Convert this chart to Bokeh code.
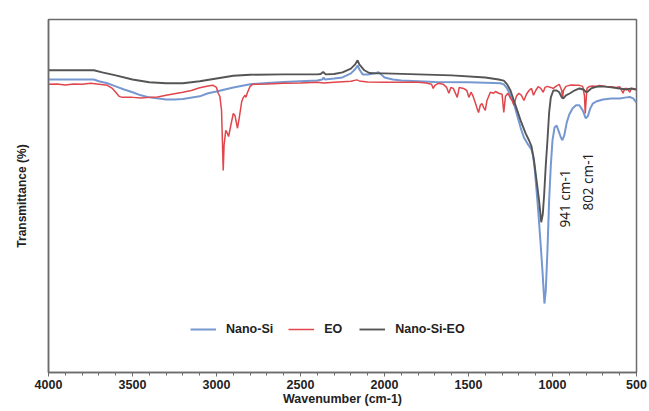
import math
from bokeh.plotting import figure
from bokeh.models import Range1d, Legend, LegendItem, SingleIntervalTicker, FixedTicker, Label
from bokeh.embed import file_html
from bokeh.resources import INLINE

# ---- data (wavenumber cm-1, transmittance %) ----
nano_si_wn = [4000, 3900, 3800, 3730, 3700, 3650, 3600, 3550, 3500, 3450, 3400, 3300, 3250, 3200,
              3100, 3050, 3000, 2950, 2900, 2800, 2700, 2600, 2500, 2400, 2370, 2363, 2355, 2300,
              2250, 2200, 2175, 2160, 2150, 2130, 2100, 2080, 2050, 2036, 2020, 2000, 1950, 1900,
              1800, 1700, 1500, 1350, 1310, 1290, 1270, 1250, 1230, 1210, 1190, 1170, 1150, 1125,
              1115, 1105, 1095, 1085, 1070, 1060, 1048, 1040, 1030, 1020, 1010, 1000, 988, 975,
              965, 950, 941, 930, 915, 900, 880, 860, 840, 820, 802, 790, 775, 760, 740, 700,
              650, 600, 560, 540, 520, 500]
nano_si_t = [81.3, 81.3, 81.3, 81.3, 80.8, 80.2, 79.3, 78.4, 77.6, 76.7, 76.1, 75.5, 75.5, 75.6,
             76.4, 77.3, 77.8, 78.4, 79.0, 79.9, 80.3, 80.6, 80.8, 81.0, 81.3, 81.9, 81.3, 81.6,
             81.9, 83.1, 84.3, 85.4, 84.3, 82.8, 82.8, 82.9, 83.2, 83.4, 82.8, 81.9, 81.3, 81.0,
             80.8, 80.6, 80.5, 80.3, 80.2, 79.9, 78.7, 76.7, 74.3, 70.8, 67.3, 64.4, 62.7, 60.9,
             58.9, 54.8, 49.0, 43.1, 32.9, 25.7, 16.0, 19.8, 31.5, 46.1, 56.3, 63.6, 67.3, 67.9,
             66.5, 64.4, 63.6, 65.0, 68.8, 71.1, 72.9, 73.8, 73.8, 72.3, 70.0, 70.6, 72.9, 74.3,
             74.9, 75.5, 75.8, 75.8, 76.1, 76.2, 75.8, 74.6]

eo_wn = [4000, 3950, 3900, 3850, 3800, 3750, 3700, 3650, 3620, 3600, 3580, 3560, 3500, 3450, 3400,
         3350, 3300, 3200, 3150, 3100, 3050, 3020, 3000, 2990, 2980, 2970, 2965, 2960, 2955, 2945,
         2935, 2928, 2915, 2900, 2890, 2875, 2865, 2850, 2840, 2830, 2825, 2815, 2800, 2785, 2700,
         2600, 2500, 2400, 2360, 2300, 2200, 2165, 2150, 2100, 2000, 1800, 1750, 1720, 1710, 1700,
         1680, 1650, 1630, 1617, 1605, 1590, 1567, 1555, 1530, 1510, 1498, 1485, 1475, 1458, 1445,
         1440, 1430, 1420, 1410, 1400, 1390, 1370, 1350, 1340, 1320, 1300, 1290, 1280, 1265, 1250,
         1240, 1230, 1215, 1200, 1185, 1170, 1155, 1140, 1125, 1113, 1100, 1085, 1070, 1055, 1045,
         1030, 1010, 995, 980, 960, 945, 940, 935, 920, 900, 880, 860, 840, 820, 810, 805, 800,
         795, 780, 760, 740, 720, 700, 680, 650, 620, 600, 580, 570, 555, 540, 530, 510, 500]
eo_t = [79.9, 80.0, 79.7, 80.0, 79.9, 80.2, 79.9, 79.6, 78.7, 77.6, 76.4, 76.1, 76.1, 75.9, 76.1,
        76.2, 76.7, 77.6, 78.1, 78.9, 79.4, 79.6, 79.0, 77.3, 76.4, 72.3, 63.6, 54.8, 62.1, 66.5,
        65.6, 64.7, 67.9, 71.4, 70.8, 67.1, 70.0, 74.9, 76.1, 76.7, 76.1, 77.6, 79.3, 79.9, 80.0,
        80.2, 80.3, 80.5, 80.3, 80.5, 80.8, 81.2, 80.9, 80.6, 80.5, 80.5, 80.3, 79.9, 78.7, 79.6,
        80.2, 79.9, 79.0, 77.3, 79.0, 78.7, 76.1, 79.0, 78.7, 78.1, 76.1, 77.6, 76.7, 74.3, 72.3,
        71.7, 73.8, 74.3, 73.2, 72.3, 75.2, 77.6, 77.3, 77.8, 77.3, 77.0, 71.7, 76.4, 77.3, 75.8,
        75.2, 73.8, 76.4, 77.3, 76.7, 75.2, 77.0, 78.1, 78.7, 76.7, 78.1, 79.2, 78.7, 77.6, 79.0,
        79.3, 79.0, 78.7, 79.3, 79.9, 78.1, 75.8, 78.1, 79.3, 79.6, 79.7, 79.6, 79.6, 79.3, 76.7,
        71.4, 75.2, 78.7, 79.3, 79.4, 79.3, 79.6, 79.4, 79.3, 79.2, 79.0, 79.2, 77.3, 78.7, 78.7,
        77.6, 78.7, 78.4, 78.4]

nano_si_eo_wn = [4000, 3900, 3800, 3730, 3680, 3600, 3500, 3400, 3300, 3200, 3100, 3000, 2900, 2800,
                 2600, 2400, 2380, 2365, 2350, 2300, 2250, 2200, 2175, 2160, 2150, 2120, 2090, 2050,
                 2000, 1800, 1600, 1400, 1320, 1290, 1270, 1250, 1230, 1210, 1190, 1160, 1140, 1125,
                 1110, 1095, 1080, 1067, 1058, 1050, 1040, 1030, 1020, 1010, 995, 975, 960, 945,
                 935, 920, 895, 870, 840, 815, 800, 790, 770, 740, 700, 650, 600, 560, 530, 500]
nano_si_eo_t = [84.0, 84.0, 84.0, 84.0, 83.4, 82.5, 81.3, 80.5, 80.2, 80.2, 80.8, 81.6, 82.4, 82.7,
                82.8, 82.8, 82.9, 83.5, 82.8, 82.9, 83.4, 84.5, 85.7, 86.9, 85.7, 84.0, 83.2, 83.1,
                83.1, 82.8, 82.5, 81.9, 81.3, 81.0, 79.9, 78.1, 75.2, 72.3, 69.4, 65.6, 63.6, 61.8,
                57.7, 51.9, 46.1, 39.7, 42.0, 47.5, 56.3, 63.6, 71.7, 76.1, 78.1, 78.1, 77.6, 76.1,
                75.8, 76.7, 77.3, 78.1, 78.7, 78.4, 77.6, 77.8, 78.7, 79.2, 79.3, 79.0, 78.7, 78.4,
                78.7, 78.4]

series_names = ["Nano-Si", "EO", "Nano-Si-EO"]
x_ticks_interval = 500
annotations = [("941 cm-1", 923, 38.2), ("802 cm-1", 789, 43.1)]

# ---- figure ----
FONT = "Liberation Sans"
AXIS_GRAY = "#6b6b6b"
TEXT = "#222222"

p = figure(width=649, height=411, output_backend="svg", toolbar_location=None,
           x_range=Range1d(4000, 500), y_range=Range1d(-4.1, 98.8),
           min_border_left=48, min_border_right=13, min_border_top=19, min_border_bottom=39)
p.xgrid.visible = False
p.ygrid.visible = False
p.outline_line_color = AXIS_GRAY
p.outline_line_width = 1.5
p.background_fill_color = "white"
p.border_fill_color = "white"

xa = p.xaxis[0]
xa.ticker = SingleIntervalTicker(interval=x_ticks_interval, num_minor_ticks=5)
xa.axis_line_color = AXIS_GRAY
xa.axis_line_width = 1.5
xa.major_tick_line_color = AXIS_GRAY
xa.minor_tick_line_color = AXIS_GRAY
xa.major_tick_in = 0
xa.major_tick_out = 4
xa.minor_tick_in = 0
xa.minor_tick_out = 3
xa.major_label_standoff = 3
xa.major_label_text_font = FONT
xa.major_label_text_font_style = "bold"
xa.major_label_text_font_size = "12.5px"
xa.major_label_text_color = TEXT
xa.axis_label = "Wavenumber (cm-1)"
xa.axis_label_text_font = FONT
xa.axis_label_text_font_style = "bold"
xa.axis_label_text_font_size = "12.5px"
xa.axis_label_text_color = TEXT
xa.axis_label_standoff = 0

ya = p.yaxis[0]
ya.ticker = FixedTicker(ticks=[])
ya.axis_line_color = AXIS_GRAY
ya.axis_line_width = 1.5
ya.major_tick_in = 0
ya.major_tick_out = 0
ya.minor_tick_in = 0
ya.minor_tick_out = 0
ya.major_label_standoff = 0
ya.axis_label = "Transmittance (%)"
ya.axis_label_text_font = FONT
ya.axis_label_text_font_style = "bold"
ya.axis_label_text_font_size = "12px"
ya.axis_label_text_color = TEXT
ya.axis_label_standoff = 20

r_si = p.line(nano_si_wn, nano_si_t, line_color="#7698D0", line_width=2)
r_eo = p.line(eo_wn, eo_t, line_color="#E0464C", line_width=1.5)
r_sieo = p.line(nano_si_eo_wn, nano_si_eo_t, line_color="#555555", line_width=1.9)

legend = Legend(items=[LegendItem(label=series_names[0], renderers=[r_si]),
                       LegendItem(label=series_names[1], renderers=[r_eo]),
                       LegendItem(label=series_names[2], renderers=[r_sieo])],
                orientation="horizontal", location=(142, 36))
legend.padding = 0
legend.margin = 0
legend.spacing = 15
legend.glyph_width = 26
legend.glyph_height = 14
legend.label_standoff = 10
legend.label_height = 14
legend.label_text_font = FONT
legend.label_text_font_style = "bold"
legend.label_text_font_size = "12.5px"
legend.label_text_color = TEXT
legend.background_fill_alpha = 0
legend.border_line_color = None
p.add_layout(legend)

for txt, xv, yv in annotations:
    p.add_layout(Label(x=xv, y=yv, text=txt, angle=math.pi / 2, text_align="left",
                       text_baseline="middle", text_font="Noto Sans", text_font_size="13.5px",
                       text_color="#1f1f1f"))

open("out.html", "w").write(file_html(p, INLINE))
